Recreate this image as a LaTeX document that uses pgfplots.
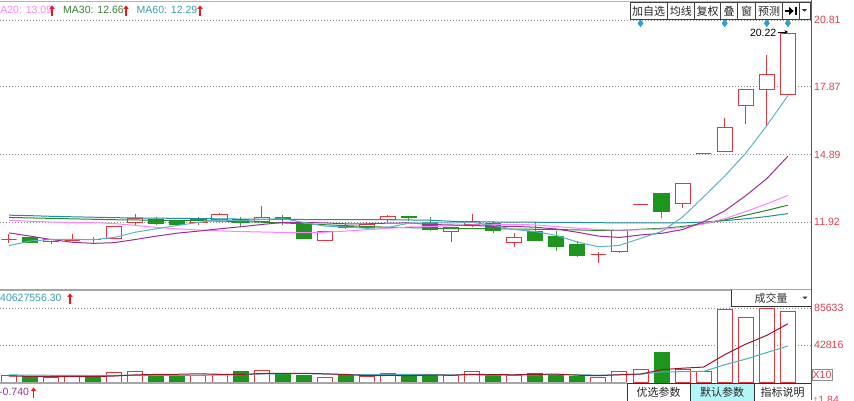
\documentclass[border=0pt]{standalone}
\usepackage{pgfplots}
\pgfplotsset{compat=1.18}
\usepackage{pgfplotstable}
\usetikzlibrary{arrows.meta}
\usepackage{fontspec}
\setmainfont{Liberation Sans}
\newfontfamily\cjk{Noto Sans CJK SC}
\definecolor{cred}{HTML}{E0383F}
\definecolor{cgreen}{HTML}{1E961E}
\definecolor{wgreen}{HTML}{3FA53F}
\definecolor{ma5}{HTML}{5AB4C6}
\definecolor{ma10}{HTML}{9B2F96}
\definecolor{ma20}{HTML}{FF82FF}
\definecolor{ma30}{HTML}{2A862A}
\definecolor{ma60}{HTML}{1F8E9E}
\definecolor{gridc}{HTML}{8C8C8C}
\definecolor{lblred}{HTML}{E0404E}
\definecolor{vma5}{HTML}{A0142A}
\definecolor{vma10}{HTML}{4AAFC0}
\definecolor{diam}{HTML}{2E9FD0}
\definecolor{leg30}{HTML}{3C7F3C}
\definecolor{leg60}{HTML}{3A9FB0}
\definecolor{btncyan}{HTML}{B3F6FA}
\definecolor{arr}{HTML}{F01818}

\pgfplotstableread{
i ma5 ma10 ma20 ma30 ma60
0 10.88 11.44 12.00 12.12 12.22
1 11.08 11.30 11.95 12.10 12.20
2 11.15 11.15 11.92 12.08 12.17
3 11.16 11.03 11.90 12.06 12.15
4 11.14 10.98 11.89 12.04 12.13
5 11.24 11.01 11.85 12.02 12.11
6 11.47 11.15 11.77 12.01 12.10
7 11.62 11.30 11.68 12.00 12.09
8 11.77 11.43 11.62 11.99 12.08
9 11.90 11.52 11.57 11.98 12.07
10 12.01 11.62 11.53 11.96 12.06
11 11.97 11.71 11.50 11.94 12.05
12 12.03 11.81 11.48 11.91 12.04
13 12.07 11.90 11.46 11.88 12.04
14 11.90 11.90 11.45 11.84 12.03
15 11.74 11.88 11.47 11.80 12.03
16 11.70 11.84 11.52 11.76 12.02
17 11.64 11.84 11.58 11.72 12.02
18 11.68 11.87 11.64 11.69 12.02
19 11.87 11.88 11.70 11.67 12.01
20 11.88 11.81 11.72 11.65 12.00
21 11.88 11.79 11.75 11.63 11.95
22 11.90 11.77 11.79 11.63 11.93
23 11.78 11.73 11.81 11.62 11.92
24 11.59 11.73 11.82 11.61 11.91
25 11.50 11.69 11.79 11.60 11.91
26 11.33 11.61 11.72 11.59 11.90
27 11.04 11.47 11.65 11.57 11.90
28 10.83 11.30 11.59 11.55 11.89
29 10.89 11.24 11.56 11.55 11.88
30 11.20 11.35 11.58 11.60 11.88
31 11.50 11.42 11.61 11.64 11.88
32 12.14 11.59 11.68 11.72 11.88
33 13.03 11.93 11.83 11.85 11.92
34 13.94 12.41 12.07 12.01 11.98
35 14.95 13.08 12.38 12.22 12.06
36 16.16 13.83 12.72 12.43 12.16
37 17.48 14.81 13.09 12.66 12.29
}\matable

\pgfplotstableread{
i v
0 7000
2 5400
3 6600
5 11200
6 12700
9 8100
10 8500
12 13500
15 5400
17 6600
18 10000
21 7000
22 12400
24 7000
28 5000
29 12400
30 13900
32 14700
33 11600
34 84000
35 74900
36 84800
37 81300
}\volred

\pgfplotstableread{
i v
1 6100
4 5400
7 8100
8 7300
11 11600
13 8700
14 8100
16 7700
19 7700
20 7700
23 7700
25 10000
26 8500
27 6100
31 33900
}\volgreen

\pgfplotstableread{
i vma5 vma10
0 6800 8200
1 6600 8000
2 6300 7800
3 6200 7600
4 6100 7500
5 6940 7500
6 8260 7600
7 8800 7700
8 8940 7700
9 9480 7790
10 8940 7940
11 8720 8490
12 9800 9300
13 10080 9510
14 10080 9780
15 9460 9200
16 8680 8700
17 7300 8550
18 7560 8820
19 7480 8780
20 7940 8700
21 7800 8240
22 8960 8130
23 8500 8030
24 8360 7920
25 8820 8380
26 9120 8460
27 7860 8410
28 7320 7910
29 8400 8380
30 9180 9000
31 14260 11690
32 15980 11920
33 17300 12310
34 31620 20010
35 43820 26500
36 54000 34130
37 67320 41650
}\vmatable

% candle: index, open, high, low, close
\newcommand{\rc}[5]{%
  \pgfmathsetmacro\xl{#1-0.36}\pgfmathsetmacro\xr{#1+0.36}%
  \addplot[cred, line width=1pt] coordinates {(#1,#4) (#1,#3)};
  \addplot[draw=cred, fill=white, line width=1pt] coordinates {(\xl,#2) (\xr,#2) (\xr,#5) (\xl,#5)} --cycle;
}
\newcommand{\gc}[5]{%
  \pgfmathsetmacro\xl{#1-0.36}\pgfmathsetmacro\xr{#1+0.36}%
  \addplot[wgreen, line width=1pt] coordinates {(#1,#4) (#1,#3)};
  \addplot[draw=cgreen, fill=cgreen, line width=1pt] coordinates {(\xl,#2) (\xr,#2) (\xr,#5) (\xl,#5)} --cycle;
}
\newcommand{\uparr}[2]{\draw[arr, line width=1.4pt, -{Triangle[length=3.6pt,width=5pt]}] (#1,#2-5.2) -- (#1,#2+5.2);}

\begin{document}
\begin{tikzpicture}[x=1pt,y=1pt]
\useasboundingbox (0,0) rectangle (854,400);
\fill[white] (0,0) rectangle (854,400);

% ---------- price panel ----------
\begin{axis}[
  at={(0pt,110pt)}, anchor=south west,
  scale only axis, width=811pt, height=288pt,
  xmin=-0.4276, xmax=38.1, ymin=8.927, ymax=21.603,
  axis line style={draw=none}, xtick=\empty,
  ytick={11.92,14.89,17.87,20.81}, yticklabels={11.92,14.89,17.87,20.81},
  yticklabel pos=right, major tick length=0pt,
  ymajorgrids, major grid style={gridc, dash pattern=on 1pt off 2pt, line width=0.8pt},
  yticklabel style={font=\fontsize{10.5}{12}\selectfont, text=lblred, inner sep=0pt, anchor=west, xshift=3pt},
]
\rc{0}{11.17}{11.39}{11.01}{11.17}
\gc{1}{11.23}{11.25}{11.01}{11.03}
\rc{2}{11.05}{11.17}{10.94}{11.16}
\rc{3}{11.12}{11.39}{11.10}{11.12}
\gc{4}{11.17}{11.27}{10.95}{11.16}
\rc{5}{11.20}{11.75}{11.20}{11.71}
\rc{6}{11.91}{12.27}{11.76}{12.08}
\gc{7}{12.01}{12.15}{11.79}{11.86}
\gc{8}{11.96}{12.03}{11.75}{11.82}
\rc{9}{11.89}{12.15}{11.80}{12.04}
\rc{10}{12.04}{12.33}{11.97}{12.26}
\gc{11}{12.04}{12.15}{11.71}{11.89}
\rc{12}{11.93}{12.64}{11.86}{12.13}
\gc{13}{12.13}{12.24}{11.79}{12.01}
\gc{14}{11.79}{11.86}{11.15}{11.20}
\rc{15}{11.10}{11.53}{11.08}{11.49}
\gc{16}{11.70}{11.91}{11.60}{11.69}
\rc{17}{11.69}{11.91}{11.62}{11.83}
\rc{18}{12.01}{12.23}{11.92}{12.18}
\gc{19}{12.16}{12.18}{11.98}{12.15}
\gc{20}{11.91}{12.12}{11.51}{11.57}
\rc{21}{11.49}{11.70}{11.05}{11.69}
\rc{22}{11.79}{12.27}{11.69}{11.93}
\gc{23}{11.86}{11.98}{11.45}{11.54}
\rc{24}{11.03}{11.42}{10.83}{11.24}
\gc{25}{11.49}{11.93}{11.10}{11.10}
\gc{26}{11.30}{11.51}{10.63}{10.86}
\gc{27}{10.95}{11.10}{10.39}{10.44}
\rc{28}{10.51}{10.61}{10.10}{10.51}
\rc{29}{10.61}{11.54}{10.55}{11.54}
\rc{30}{12.67}{12.67}{12.67}{12.67}
\gc{31}{13.18}{13.18}{12.08}{12.37}
\rc{32}{12.74}{13.61}{12.52}{13.61}
\rc{33}{14.94}{14.94}{14.94}{14.94}
\rc{34}{15.01}{16.48}{15.01}{16.09}
\rc{35}{17.04}{17.73}{16.23}{17.73}
\rc{36}{17.73}{19.27}{16.14}{18.42}
\rc{37}{17.55}{20.22}{17.55}{20.22}
\addplot[ma60, line width=1pt] table[x=i,y=ma60] {\matable};
\addplot[ma30, line width=1pt] table[x=i,y=ma30] {\matable};
\addplot[ma20, line width=1pt] table[x=i,y=ma20] {\matable};
\addplot[ma10, line width=1pt] table[x=i,y=ma10] {\matable};
\addplot[ma5, line width=1pt] table[x=i,y=ma5] {\matable};
\addplot[only marks, mark=diamond*, mark size=3.6pt, color=diam] coordinates {(30,20.67) (34,20.67) (36,20.67) (37,20.67)};
\end{axis}

% ---------- volume panel ----------
\begin{axis}[
  at={(0pt,18pt)}, anchor=south west,
  scale only axis, width=811pt, height=92pt,
  xmin=-0.4276, xmax=38.1, ymin=0, ymax=106460,
  axis line style={draw=none}, xtick=\empty,
  ytick={42816,85633}, yticklabels={42816,85633},
  yticklabel pos=right, major tick length=0pt,
  ymajorgrids, major grid style={gridc, dash pattern=on 1pt off 2pt, line width=0.8pt},
  yticklabel style={font=\fontsize{10.5}{12}\selectfont, text=lblred, inner sep=0pt, anchor=west, xshift=3pt},
  scaled y ticks=false,
]
\addplot[ybar, bar width=15pt, bar shift=0pt, draw=cred, fill=white, line width=1pt] table[x=i,y=v] {\volred};
\addplot[ybar, bar width=15pt, bar shift=0pt, draw=cgreen, fill=cgreen, line width=1pt] table[x=i,y=v] {\volgreen};
\addplot[vma10, line width=1pt] table[x=i,y=vma10] {\vmatable};
\addplot[vma5, line width=1pt] table[x=i,y=vma5] {\vmatable};
\end{axis}

% ---------- frame lines ----------
\draw[black!30, line width=1pt] (0,398.5) -- (811,398.5);
\draw[black!35, line width=2pt] (0,110) -- (811,110);
\draw[black!35, line width=2pt] (0,17) -- (627,17);
\draw[black!65, line width=1pt] (811.5,0) -- (811.5,400);

% ---------- legend texts ----------
\begin{scope}[every node/.style={inner sep=0pt, anchor=west, font=\fontsize{10.5}{12}\selectfont}]
\node[text=ma20] at (-8.6,390) {MA20: 13.09};
\node[text=leg30] at (63,390) {MA30: 12.66};
\node[text=leg60] at (136.5,390) {MA60: 12.29};
\node[text=leg60] at (0,102) {40627556.30};
\node[text=ma10] at (-1,8) {-0.740};
\node[text=lblred, anchor=north west] at (813,4) {↑1.84};
\node[anchor=east, text=black] at (776.5,367.5) {20.22};
\end{scope}
\uparr{52}{389.5}
\uparr{126}{389.5}
\uparr{200}{389.5}
\uparr{70}{101.5}
\uparr{33.5}{7.5}
\draw[black, line width=0.8pt, -{Stealth[length=3.5pt,width=3.5pt]}] (777.5,368) -- (788,368);

% ---------- top buttons ----------
\fill[white] (630,397.5) rectangle (810.5,380.7);
\draw[black!75, line width=0.8pt] (630,397.5) rectangle (810.5,380.7);
\foreach \sx in {667.3,694.3,720.7,737.7,755.7,782.3,799} {\draw[black!75, line width=0.8pt] (\sx,397.5) -- (\sx,380.7);}
\begin{scope}[every node/.style={inner sep=0pt, font=\cjk\fontsize{11}{12}\selectfont, text=black!85}]
\node at (648.7,389) {加自选};
\node at (680.8,389) {均线};
\node at (707.5,389) {复权};
\node at (729.2,389) {叠};
\node at (746.7,389) {窗};
\node at (769,389) {预测};
\end{scope}
\draw[black, line width=2.6pt] (784.5,389) -- (789.5,389);
\fill[black] (789,393.2) -- (793.6,389) -- (789,384.8) -- cycle;
\fill[black] (794.5,384.6) rectangle (796.8,393.4);
\fill[black!80] (801.8,390.8) -- (806.8,390.8) -- (804.3,388.2) -- cycle;

% ---------- volume selector ----------
\fill[white] (731,110) rectangle (811,94);
\draw[black!80, line width=0.8pt] (731,110) -- (731,94) -- (811,94);
\node[inner sep=0pt, font=\cjk\fontsize{11}{12}\selectfont, text=black!80] at (771,102) {成交量};
\fill[black!80] (802.5,103.3) -- (807.5,103.3) -- (805,100.8) -- cycle;

% ---------- X10 ----------
\draw[black!45, line width=0.8pt] (812,31) rectangle (832,19.5);
\node[inner sep=0pt, font=\fontsize{10.5}{12}\selectfont, text=lblred] at (822,25) {X10};

% ---------- bottom buttons ----------
\fill[btncyan] (690.5,17) rectangle (754,-1);
\draw[black!80, line width=0.8pt] (627,-1) -- (627,17) -- (811,17);
\draw[black!80, line width=0.8pt] (690.5,17) -- (690.5,-1);
\draw[black!80, line width=0.8pt] (754,17) -- (754,-1);
\begin{scope}[every node/.style={inner sep=0pt, font=\cjk\fontsize{11}{12}\selectfont, text=black!85}]
\node at (658.7,8) {优选参数};
\node at (722.2,8) {默认参数};
\node at (782.5,8) {指标说明};
\end{scope}
\end{tikzpicture}
\end{document}
